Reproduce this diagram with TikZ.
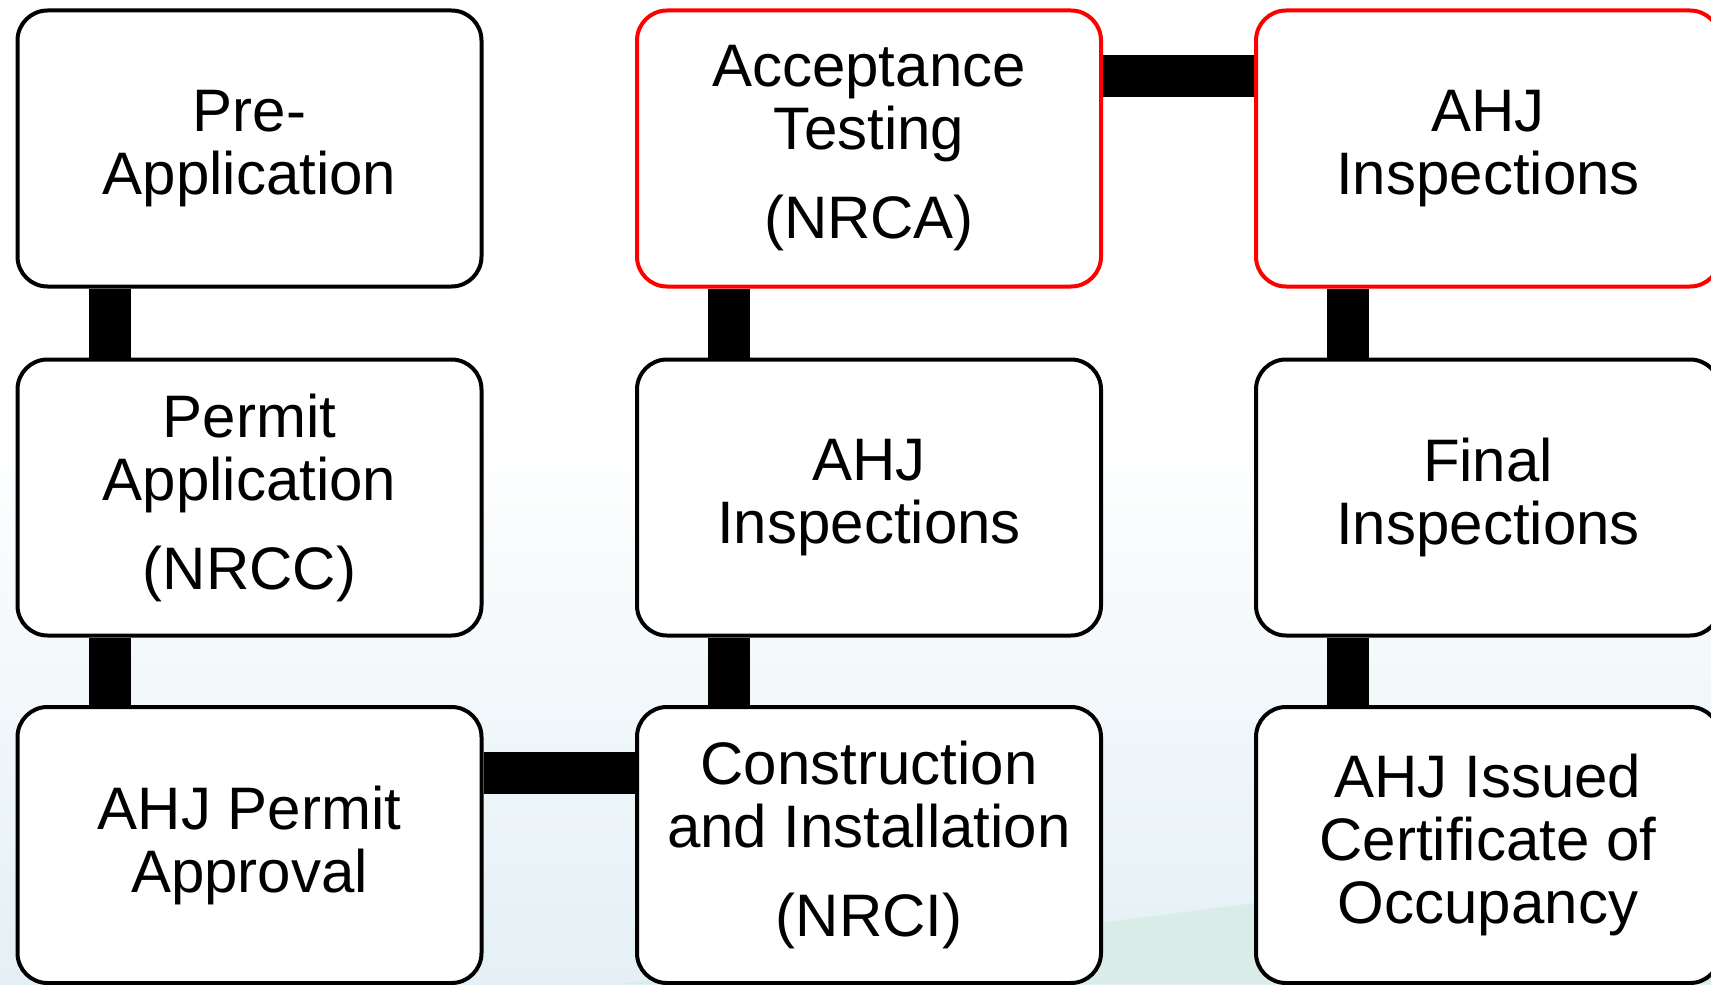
\documentclass[tikz,border=0pt]{standalone}
\usepackage{fontspec}
\setmainfont{Liberation Sans}
\usetikzlibrary{positioning,calc}
\definecolor{bgBlue}{RGB}{228,240,245}
\definecolor{bgTeal}{RGB}{217,236,232}
\tikzset{stage/.style={rectangle,rounded corners=15pt,draw=black,line width=2pt,fill=white,
		minimum width=232pt,minimum height=138pt,inner sep=0pt,
		font=\fontsize{30pt}{31.5pt}\selectfont},
		stageHighlight/.style={stage,draw=red},
		link/.style={-,line width=21pt,draw=black},
		every node/.style={align=center}}

\begin{document}
\begin{tikzpicture}[x=0.5pt,y=-0.5pt]
		\useasboundingbox (0,0) rectangle (1711,984);
		\fill[white] (0,0) rectangle (1711,984);
		\shade[top color=white,bottom color=bgBlue] (0,420) rectangle (1711,984);
		\fill[bgTeal] (620,984) .. controls (1000,935) and (1400,885) .. (1711,845) -- (1711,984) -- cycle;
		%stages
		\node at (249.5,148.5) [stage] (pre){Pre-\\Application};
		\node at (249.5,497.5) [stage] (permit){Permit\\Application\\[13pt](NRCC)};
		\node at (249.5,845) [stage] (approval){AHJ Permit\\Approval};
		\node at (869,148.5) [stageHighlight] (accept){Acceptance\\Testing\\[13pt](NRCA)};
		\node at (869,497.5) [stage] (ahjMid){AHJ\\Inspections};
		\node at (869,845) [stage] (construct){Construction\\and Installation\\[13pt](NRCI)};
		\node at (1488,148.5) [stageHighlight] (ahjTop){AHJ\\Inspections};
		\node at (1488,497.5) [stage] (final){Final\\Inspections};
		\node at (1488,845) [stage] (occupancy){AHJ Issued\\Certificate of\\Occupancy};
		%links
		\draw ([xshift=47pt]pre.south west) edge[link] ([xshift=47pt]permit.north west);
		\draw ([xshift=47pt]permit.south west) edge[link] ([xshift=47pt]approval.north west);
		\draw ([yshift=-34pt]approval.north east) edge[link] ([yshift=-34pt]construct.north west);
		\draw ([xshift=47pt]construct.north west) edge[link] ([xshift=47pt]ahjMid.south west);
		\draw ([xshift=47pt]ahjMid.north west) edge[link] ([xshift=47pt]accept.south west);
		\draw ([yshift=-34pt]accept.north east) edge[link] ([yshift=-34pt]ahjTop.north west);
		\draw ([xshift=47pt]ahjTop.south west) edge[link] ([xshift=47pt]final.north west);
		\draw ([xshift=47pt]final.south west) edge[link] ([xshift=47pt]occupancy.north west);
\end{tikzpicture}
\end{document}
